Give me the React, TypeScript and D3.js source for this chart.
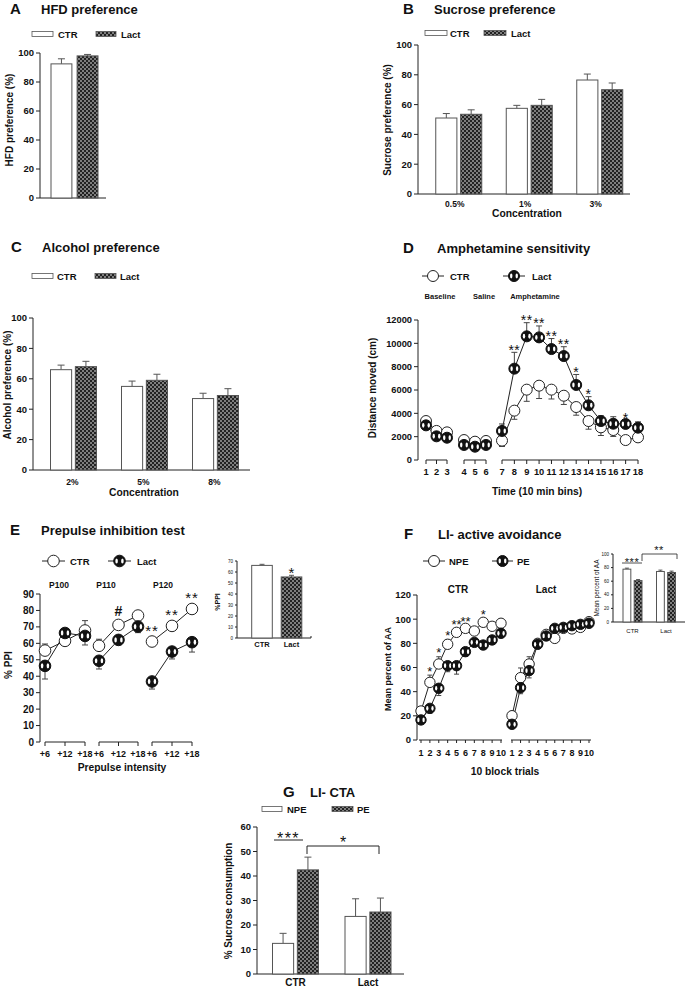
import React from "react";
import * as d3 from "d3";

const FONT = "'Liberation Sans', Arial, Helvetica, sans-serif";
const INK = "#222";
const BAR_STROKE = "#555";
const PAT = "url(#lactPattern)";

// ---------- A: HFD preference ----------
const hfdGroups = ["CTR", "Lact"];
const hfdMean = [92.5, 98];
const hfdErr = [3.5, 1];

// ---------- B: Sucrose preference ----------
const sucroseConc = ["0.5%", "1%", "3%"];
const sucroseCTR = [51, 57.5, 76.5];
const sucroseCTRErr = [3, 2, 4];
const sucroseLact = [53.5, 59.5, 70];
const sucroseLactErr = [3, 4, 4.5];

// ---------- C: Alcohol preference ----------
const alcoholConc = ["2%", "5%", "8%"];
const alcoholCTR = [66, 55, 47];
const alcoholCTRErr = [3, 3.5, 3.5];
const alcoholLact = [68, 59, 49];
const alcoholLactErr = [3.5, 4, 4.5];
const prefTicks = [0, 20, 40, 60, 80, 100];

// ---------- D: Amphetamine sensitivity ----------
const ampBins = [1, 2, 3, 4, 5, 6, 7, 8, 9, 10, 11, 12, 13, 14, 15, 16, 17, 18];
const ampPhases = ["Baseline", "Saline", "Amphetamine"];
const ampPhaseBins = [[1, 3], [4, 6], [7, 18]];
const ampCTR = [3340, 2490, 2370, 1710, 1570, 1630, 1660, 4230, 6030, 6370, 6030, 5510, 4540, 3340, 2800, 2570, 1710, 1940];
const ampCTRErr = [250, 200, 250, 200, 150, 200, 500, 740, 1000, 1100, 800, 750, 700, 700, 700, 550, 300, 300];
const ampLact = [2970, 2030, 1910, 1290, 1140, 1290, 2490, 7830, 10600, 10510, 9510, 8910, 6430, 4690, 3340, 3110, 3090, 2770];
const ampLactErr = [200, 200, 200, 200, 200, 200, 600, 1400, 1170, 980, 900, 800, 900, 740, 450, 600, 300, 500];
const ampStars = ["", "", "", "", "", "", "", "**", "**", "**", "**", "**", "*", "*", "", "", "*", ""];
const ampTicks = [0, 2000, 4000, 6000, 8000, 10000, 12000];

// ---------- E: Prepulse inhibition ----------
const ppiPulses = ["P100", "P110", "P120"];
const ppiIntensity = ["+6", "+12", "+18"];
const ppiCTR = [[55.6, 61.5, 67.8], [58.5, 71.2, 76.9], [61.1, 70.6, 80.9]];
const ppiCTRErr = [[4, 2, 6], [4, 2, 2], [1.5, 1.5, 1.5]];
const ppiLact = [[46.3, 66.3, 64.5], [49.4, 62.1, 70.2], [36.8, 55.0, 60.7]];
const ppiLactErr = [[8, 2, 5.5], [5, 3, 3.7], [4.6, 4.5, 6]];
const ppiMarks = [["", "", ""], ["", "#", ""], ["**", "**", "**"]];
const ppiTicks = [0, 10, 20, 30, 40, 50, 60, 70, 80, 90];
const ppiTotalGroups = ["CTR", "Lact"];
const ppiTotal = [66, 55.5];
const ppiTotalErr = [1, 1.5];
const ppiTotalMarks = ["", "*"];
const ppiTotalTicks = [0, 10, 20, 30, 40, 50, 60, 70];

// ---------- F: LI active avoidance ----------
const aaGroups = ["CTR", "Lact"];
const aaBlocks = [1, 2, 3, 4, 5, 6, 7, 8, 9, 10];
const aaNPE = [
  [24.0, 47.7, 62.9, 79.2, 89.1, 92.4, 90.2, 97.4, 94.1, 96.6],
  [20.1, 51.6, 62.9, 80.0, 87.4, 84.1, 92.4, 91.9, 93.2, 97.9],
];
const aaNPEErr = [
  [3, 6, 6, 4, 3, 2, 3, 3, 3, 3],
  [3, 8, 6, 3, 3, 3, 2, 2, 2, 2],
];
const aaPE = [
  [16.6, 26.2, 42.8, 61.5, 61.5, 73.1, 80.8, 78.6, 82.8, 88.3],
  [13.0, 43.3, 57.4, 79.2, 86.1, 92.4, 93.2, 94.6, 95.7, 96.6],
];
const aaPEErr = [
  [3, 4, 6, 5, 7, 4, 3, 3, 3, 3],
  [3, 5, 6, 3, 3, 3, 3, 3, 2, 2],
];
const aaStars = ["", "*", "*", "*", "**", "**", "", "*", "", ""];
const aaTicks = [0, 20, 40, 60, 80, 100, 120];
const aaMeanNPE = [77.7, 74.3];
const aaMeanNPEErr = [1.5, 2];
const aaMeanPE = [60.9, 72.8];
const aaMeanPEErr = [1.5, 2];

// ---------- G: LI CTA ----------
const ctaGroups = ["CTR", "Lact"];
const ctaNPE = [12.5, 23.5];
const ctaNPEErr = [4.1, 7.2];
const ctaPE = [42.5, 25.3];
const ctaPEErr = [5.2, 5.7];
const ctaTicks = [0, 10, 20, 30, 40, 50, 60];

// ================= helpers =================
function Title({ lx, tx, y, letter, title }: any) {
  return (
    <g fontWeight="bold" fill="#111">
      <text x={lx} y={y} fontSize={15}>{letter}</text>
      <text x={tx} y={y} fontSize={13}>{title}</text>
    </g>
  );
}

function BarLegend({ y, items }: any) {
  return (
    <g>
      {items.map((it: any) => (
        <g key={it.label}>
          <rect x={it.x} y={y - 2.5} width={it.w} height={5} fill={it.fill} stroke={BAR_STROKE} strokeWidth={0.8} />
          <text x={it.tx} y={y + 3.5} fontSize={9.5} fontWeight="bold">{it.label}</text>
        </g>
      ))}
    </g>
  );
}

function OpenMarker({ x, y, r }: any) {
  return <circle cx={x} cy={y} r={r} fill="#fff" stroke={INK} strokeWidth={1} />;
}

function FilledMarker({ x, y, r }: any) {
  return (
    <g>
      <circle cx={x} cy={y} r={r} fill="#111" stroke="#111" strokeWidth={1} />
      <ellipse cx={x - r * 0.5} cy={y} rx={r * 0.22} ry={r * 0.45} fill="#fff" />
      <ellipse cx={x + r * 0.5} cy={y} rx={r * 0.22} ry={r * 0.45} fill="#fff" />
    </g>
  );
}

function LineLegend({ y, items, r }: any) {
  return (
    <g>
      {items.map((it: any) => (
        <g key={it.label}>
          <line x1={it.x1} x2={it.x2} y1={y} y2={y} stroke={INK} />
          {it.filled ? <FilledMarker x={(it.x1 + it.x2) / 2} y={y} r={r} /> : <OpenMarker x={(it.x1 + it.x2) / 2} y={y} r={r} />}
          <text x={it.tx} y={y + 3.5} fontSize={9.5} fontWeight="bold">{it.label}</text>
        </g>
      ))}
    </g>
  );
}

function YAxis({ x, scale, ticks, fs, tickLen, top, bottom, weight = "bold" }: any) {
  return (
    <g>
      <line x1={x} x2={x} y1={top} y2={bottom} stroke={INK} />
      {ticks.map((t: number) => (
        <g key={t}>
          <line x1={x - tickLen} x2={x} y1={scale(t)} y2={scale(t)} stroke={INK} />
          <text x={x - tickLen - 2} y={scale(t) + fs * 0.36} textAnchor="end" fontSize={fs} fontWeight={weight}>{t}</text>
        </g>
      ))}
    </g>
  );
}

function RotLabel({ x, y, text, fs, weight = "bold" }: any) {
  return (
    <text transform={`translate(${x},${y}) rotate(-90)`} textAnchor="middle" dy="0.35em" fontSize={fs} fontWeight={weight}>
      {text}
    </text>
  );
}

function ErrBar({ x, y1, y2, cap, stroke = BAR_STROKE }: any) {
  return (
    <g stroke={stroke} strokeWidth={1}>
      <line x1={x} x2={x} y1={y1} y2={y2} />
      <line x1={x - cap / 2} x2={x + cap / 2} y1={y2} y2={y2} />
    </g>
  );
}

function BarChart(p: any) {
  const y = d3.scaleLinear().domain([0, p.yMax]).range([p.yBottom, p.yTop]);
  const x = d3.scaleBand<string>().domain(p.cats).range(p.band);
  const xi = d3
    .scaleBand<string>()
    .domain(p.series.map((_: any, i: number) => String(i)))
    .range(p.inner)
    .paddingInner(p.innerPad);
  return (
    <g>
      <YAxis x={p.axisX} scale={y} ticks={p.ticks} fs={p.tickFs} tickLen={p.tickLen} top={p.yTop} bottom={p.yBottom} weight={p.tickWeight || "bold"} />
      <line x1={p.axisX} x2={p.xEnd} y1={p.yBottom} y2={p.yBottom} stroke={INK} />
      {p.cats.map((c: string, ci: number) => {
        const cx = (x(c) as number) + x.bandwidth() / 2;
        return (
          <g key={c}>
            {p.series.map((s: number[], si: number) => {
              const bx = cx + (xi(String(si)) as number);
              const bw = xi.bandwidth();
              const v = s[ci];
              const e = p.errs[si][ci];
              const bc = bx + bw / 2;
              return (
                <g key={si}>
                  <ErrBar x={bc} y1={y(v)} y2={y(v + e)} cap={p.capW} />
                  <rect x={bx} y={y(v)} width={bw} height={p.yBottom - y(v)} fill={p.fillFor(si, ci)} stroke={BAR_STROKE} strokeWidth={1} />
                  {p.marks && p.marks[si] && p.marks[si][ci] ? (
                    <text x={bc} y={y(v + e) - 4 + p.markFs * 0.57 - 2} textAnchor="middle" fontSize={p.markFs}>{p.marks[si][ci]}</text>
                  ) : null}
                </g>
              );
            })}
            {p.catY != null && (
              <text x={cx + (p.catDx || 0)} y={p.catY} textAnchor="middle" fontSize={p.catFs} fontWeight={p.catWeight || "bold"}>{c}</text>
            )}
          </g>
        );
      })}
    </g>
  );
}

// ================= panels =================
function PanelA() {
  return (
    <g>
      <Title lx={10} tx={41} y={14} letter="A" title="HFD preference" />
      <BarLegend y={34} items={[
        { label: hfdGroups[0], x: 32, w: 21, tx: 58, fill: "#fff" },
        { label: hfdGroups[1], x: 96, w: 20, tx: 121, fill: PAT },
      ]} />
      <BarChart axisX={40} xEnd={106} yTop={53} yBottom={198} yMax={100} ticks={prefTicks} tickFs={9.5} tickLen={4}
        cats={["HFD"]} series={hfdMean.map((v) => [v])} errs={hfdErr.map((v) => [v])}
        band={[60, 89]} inner={[-23.5, 23.5]} innerPad={0.2} capW={7}
        fillFor={(si: number) => (si === 0 ? "#fff" : PAT)} />
      <RotLabel x={9} y={120} text="HFD preference (%)" fs={10} />
    </g>
  );
}

function PanelB() {
  return (
    <g>
      <Title lx={403} tx={434} y={14} letter="B" title="Sucrose preference" />
      <BarLegend y={33} items={[
        { label: "CTR", x: 425, w: 22, tx: 450, fill: "#fff" },
        { label: "Lact", x: 484, w: 22, tx: 511, fill: PAT },
      ]} />
      <BarChart axisX={418} xEnd={630} yTop={45} yBottom={194} yMax={100} ticks={prefTicks} tickFs={9.5} tickLen={4}
        cats={sucroseConc} series={[sucroseCTR, sucroseLact]} errs={[sucroseCTRErr, sucroseLactErr]}
        band={[423.5, 635]} inner={[-23, 23]} innerPad={0.15} capW={7}
        fillFor={(si: number) => (si === 0 ? "#fff" : PAT)}
        catY={207} catDx={-4} catFs={8.5} />
      <text x={527} y={217} textAnchor="middle" fontSize={10.3} fontWeight="bold">Concentration</text>
      <RotLabel x={387} y={120} text="Sucrose preference (%)" fs={10} />
    </g>
  );
}

function PanelC() {
  return (
    <g>
      <Title lx={11} tx={42} y={252} letter="C" title="Alcohol preference" />
      <BarLegend y={276} items={[
        { label: "CTR", x: 32, w: 21, tx: 57, fill: "#fff" },
        { label: "Lact", x: 95, w: 21, tx: 120, fill: PAT },
      ]} />
      <BarChart axisX={33} xEnd={250} yTop={318} yBottom={470} yMax={100} ticks={prefTicks} tickFs={9.5} tickLen={4}
        cats={alcoholConc} series={[alcoholCTR, alcoholLact]} errs={[alcoholCTRErr, alcoholLactErr]}
        band={[38, 251]} inner={[-23, 23]} innerPad={0.15} capW={7}
        fillFor={(si: number) => (si === 0 ? "#fff" : PAT)}
        catY={485} catDx={-1} catFs={8.5} />
      <text x={144} y={496} textAnchor="middle" fontSize={10.3} fontWeight="bold">Concentration</text>
      <RotLabel x={7} y={385} text="Alcohol preference (%)" fs={10} />
    </g>
  );
}

function PanelD() {
  const y = d3.scaleLinear().domain([0, 12000]).range([460, 320]);
  const ranges = [[426, 447], [464, 486], [502, 638]];
  const segs = ampPhaseBins.map((pb, i) => ({
    bins: ampBins.filter((b) => b >= pb[0] && b <= pb[1]),
    scale: d3.scaleLinear().domain(pb).range(ranges[i]),
  }));
  const xOf = (b: number) => {
    const s = segs.find((sg) => sg.bins.includes(b))!;
    return s.scale(b);
  };
  const r = 5.5;
  const phaseX = [440, 484, 535];
  return (
    <g>
      <Title lx={403} tx={437} y={253} letter="D" title="Amphetamine sensitivity" />
      <LineLegend y={276} r={5.5} items={[
        { label: "CTR", x1: 422, x2: 444, tx: 450, filled: false },
        { label: "Lact", x1: 503, x2: 525, tx: 532, filled: true },
      ]} />
      {ampPhases.map((ph, i) => (
        <text key={ph} x={phaseX[i]} y={299} textAnchor="middle" fontSize={7.5} fontWeight="bold">{ph}</text>
      ))}
      <YAxis x={418} scale={y} ticks={ampTicks} fs={9.3} tickLen={4} top={320} bottom={460} />
      {segs.map((sg, i) => (
        <g key={i}>
          <line x1={sg.scale(sg.bins[0])} x2={sg.scale(sg.bins[sg.bins.length - 1])} y1={460} y2={460} stroke={INK} />
          {sg.bins.map((b) => (
            <g key={b}>
              <line x1={sg.scale(b)} x2={sg.scale(b)} y1={460} y2={464} stroke={INK} />
              <text x={sg.scale(b)} y={475} textAnchor="middle" fontSize={9.3} fontWeight="bold">{b}</text>
            </g>
          ))}
          {[ampCTR, ampLact].map((vals, si) => (
            <path key={si} d={d3.line<number>().x((b) => sg.scale(b)).y((b) => y(vals[b - 1]))(sg.bins) || ""} fill="none" stroke={INK} strokeWidth={1} />
          ))}
        </g>
      ))}
      {ampBins.map((b, i) => (
        <g key={"e" + b}>
          <ErrBar x={xOf(b)} y1={y(ampCTR[i])} y2={y(ampCTR[i] - ampCTRErr[i])} cap={6} stroke="#444" />
          <ErrBar x={xOf(b)} y1={y(ampLact[i])} y2={y(ampLact[i] + ampLactErr[i])} cap={6} stroke="#444" />
        </g>
      ))}
      {ampBins.map((b, i) => <OpenMarker key={"c" + b} x={xOf(b)} y={y(ampCTR[i])} r={r} />)}
      {ampBins.map((b, i) => <FilledMarker key={"l" + b} x={xOf(b)} y={y(ampLact[i])} r={r} />)}
      {ampBins.map((b, i) =>
        ampStars[i] ? (
          <text key={"s" + b} x={xOf(b)} y={y(ampLact[i] + ampLactErr[i]) + 2.5} textAnchor="middle" fontSize={14} letterSpacing={0.5}>{ampStars[i]}</text>
        ) : null
      )}
      <RotLabel x={372} y={388} text="Distance moved (cm)" fs={10} />
      <text x={537} y={495} textAnchor="middle" fontSize={10.3} fontWeight="bold">Time (10 min bins)</text>
    </g>
  );
}

function PanelE() {
  const y = d3.scaleLinear().domain([0, 90]).range([742, 594]);
  const ranges = [[45, 85], [99, 138], [152, 192]];
  const segScales = ranges.map((rg) => d3.scalePoint<string>().domain(ppiIntensity).range(rg as [number, number]));
  const r = 5.8;
  const pulseX = [59, 106, 163];
  return (
    <g>
      <Title lx={10} tx={41} y={535} letter="E" title="Prepulse inhibition test" />
      <LineLegend y={561} r={5.8} items={[
        { label: "CTR", x1: 42, x2: 65, tx: 70, filled: false },
        { label: "Lact", x1: 108, x2: 131, tx: 137, filled: true },
      ]} />
      {ppiPulses.map((p, i) => (
        <text key={p} x={pulseX[i]} y={588} textAnchor="middle" fontSize={8.5} fontWeight="bold">{p}</text>
      ))}
      <YAxis x={40} scale={y} ticks={ppiTicks} fs={10} tickLen={4} top={594} bottom={742} />
      {ppiPulses.map((p, pi) => {
        const sx = segScales[pi];
        return (
          <g key={p}>
            <line x1={sx(ppiIntensity[0])} x2={sx(ppiIntensity[2])} y1={742} y2={742} stroke={INK} />
            {ppiIntensity.map((it) => (
              <g key={it}>
                <line x1={sx(it)} x2={sx(it)} y1={742} y2={746} stroke={INK} />
                <text x={sx(it)} y={757} textAnchor="middle" fontSize={9} fontWeight="bold">{it}</text>
              </g>
            ))}
            {[ppiCTR, ppiLact].map((vals, si) => (
              <path key={si} d={d3.line<string>().x((it) => sx(it) as number).y((_, k) => y(vals[pi][k]))(ppiIntensity) || ""} fill="none" stroke={INK} />
            ))}
            {ppiIntensity.map((it, k) => (
              <g key={"e" + it}>
                <ErrBar x={sx(it)} y1={y(ppiCTR[pi][k])} y2={y(ppiCTR[pi][k] + ppiCTRErr[pi][k])} cap={6} stroke="#444" />
                <ErrBar x={sx(it)} y1={y(ppiLact[pi][k])} y2={y(ppiLact[pi][k] - ppiLactErr[pi][k])} cap={6} stroke="#444" />
              </g>
            ))}
            {ppiIntensity.map((it, k) => <OpenMarker key={"c" + it} x={sx(it)} y={y(ppiCTR[pi][k])} r={r} />)}
            {ppiIntensity.map((it, k) => <FilledMarker key={"l" + it} x={sx(it)} y={y(ppiLact[pi][k])} r={r} />)}
            {ppiIntensity.map((it, k) => {
              const m = ppiMarks[pi][k];
              if (!m) return null;
              const cy = y(ppiCTR[pi][k]) - 14;
              return m === "#" ? (
                <text key={"m" + it} x={sx(it)} y={cy + 5} textAnchor="middle" fontSize={14} fontWeight="bold">{m}</text>
              ) : (
                <text key={"m" + it} x={sx(it)} y={cy + 8.5} textAnchor="middle" fontSize={15} letterSpacing={1}>{m}</text>
              );
            })}
          </g>
        );
      })}
      <RotLabel x={8} y={665} text="% PPI" fs={10} />
      <text x={122} y={771} textAnchor="middle" fontSize={10.3} fontWeight="bold">Prepulse intensity</text>
      {/* inset */}
      <BarChart axisX={237} xEnd={311} yTop={561} yBottom={638} yMax={70} ticks={ppiTotalTicks} tickFs={4.5} tickLen={2}
        tickWeight="normal"
        cats={ppiTotalGroups} series={[ppiTotal]} errs={[ppiTotalErr]}
        band={[247.25, 306.25]} inner={[-10.3, 10.3]} innerPad={0} capW={5}
        fillFor={(_si: number, ci: number) => (ci === 0 ? "#fff" : PAT)}
        marks={[ppiTotalMarks]} markFs={15}
        catY={647} catFs={7.5} />
      <line x1={311} x2={311} y1={636} y2={638} stroke={INK} />
      <RotLabel x={218} y={602} text="%PPI" fs={7} />
    </g>
  );
}

function PanelF() {
  const y = d3.scaleLinear().domain([0, 120]).range([740, 595]);
  const ranges = [[421, 501], [512, 589]];
  const axisRanges = [[419, 502], [511, 591]];
  const segScales = ranges.map((rg) => d3.scaleLinear().domain([aaBlocks[0], aaBlocks[aaBlocks.length - 1]]).range(rg));
  const r = 5.2;
  const groupX = [458, 546];
  return (
    <g>
      <Title lx={404} tx={438} y={539} letter="F" title="LI- active avoidance" />
      <LineLegend y={561} r={5.5} items={[
        { label: "NPE", x1: 423, x2: 445, tx: 449, filled: false },
        { label: "PE", x1: 492, x2: 513, tx: 517, filled: true },
      ]} />
      {aaGroups.map((g, gi) => (
        <text key={g} x={groupX[gi]} y={593} textAnchor="middle" fontSize={10} fontWeight="bold">{g}</text>
      ))}
      <YAxis x={417} scale={y} ticks={aaTicks} fs={9.5} tickLen={4} top={595} bottom={740} />
      {aaGroups.map((g, gi) => {
        const sx = segScales[gi];
        return (
          <g key={g}>
            <line x1={axisRanges[gi][0]} x2={axisRanges[gi][1]} y1={740} y2={740} stroke={INK} />
            {aaBlocks.map((b) => (
              <g key={b}>
                <line x1={sx(b)} x2={sx(b)} y1={740} y2={743} stroke={INK} />
                <text x={sx(b)} y={756} textAnchor="middle" fontSize={9} fontWeight="bold">{b}</text>
              </g>
            ))}
            {[aaNPE, aaPE].map((vals, si) => (
              <path key={si} d={d3.line<number>().x((b) => sx(b)).y((_, k) => y(vals[gi][k]))(aaBlocks) || ""} fill="none" stroke={INK} />
            ))}
            {aaBlocks.map((b, k) => (
              <g key={"e" + b}>
                <ErrBar x={sx(b)} y1={y(aaNPE[gi][k])} y2={y(aaNPE[gi][k] + aaNPEErr[gi][k])} cap={5} stroke="#444" />
                <ErrBar x={sx(b)} y1={y(aaPE[gi][k])} y2={y(aaPE[gi][k] - aaPEErr[gi][k])} cap={5} stroke="#444" />
              </g>
            ))}
            {aaBlocks.map((b, k) => <OpenMarker key={"c" + b} x={sx(b)} y={y(aaNPE[gi][k])} r={r} />)}
            {aaBlocks.map((b, k) => <FilledMarker key={"l" + b} x={sx(b)} y={y(aaPE[gi][k])} r={r} />)}
            {gi === 0 &&
              aaBlocks.map((b, k) =>
                aaStars[k] ? (
                  <text key={"s" + b} x={sx(b)} y={y(aaNPE[0][k] + aaNPEErr[0][k]) - 7 + 7.5} textAnchor="middle" fontSize={13}>{aaStars[k]}</text>
                ) : null
              )}
          </g>
        );
      })}
      <RotLabel x={388} y={669} text="Mean percent of AA" fs={9} />
      <text x={505} y={775} textAnchor="middle" fontSize={10.3} fontWeight="bold">10 block trials</text>
      {/* inset */}
      <BarChart axisX={613} xEnd={685} yTop={554} yBottom={622} yMax={100} ticks={prefTicks} tickFs={4.5} tickLen={2}
        tickWeight="normal"
        cats={aaGroups} series={[aaMeanNPE, aaMeanPE]} errs={[aaMeanNPEErr, aaMeanPEErr]}
        band={[615.75, 682.75]} inner={[-9.5, 9.5]} innerPad={0.3} capW={4}
        fillFor={(si: number) => (si === 0 ? "#fff" : PAT)}
        catY={633} catFs={6} catWeight="normal" />
      <RotLabel x={597} y={588} text="Mean percent of AA" fs={6.5} weight="normal" />
      <line x1={622} x2={642} y1={563} y2={563} stroke={INK} strokeWidth={0.8} />
      <text x={632} y={565.5} textAnchor="middle" fontSize={11} letterSpacing={0.5}>***</text>
      <path d="M642,561 V554 H677 V559" fill="none" stroke={INK} strokeWidth={0.8} />
      <text x={659} y={553.5} textAnchor="middle" fontSize={11} letterSpacing={0.5}>**</text>
    </g>
  );
}

function PanelG() {
  return (
    <g>
      <Title lx={283} tx={310} y={797} letter="G" title="LI- CTA" />
      <BarLegend y={809} items={[
        { label: "NPE", x: 262, w: 20, tx: 287, fill: "#fff" },
        { label: "PE", x: 332, w: 21, tx: 357, fill: PAT },
      ]} />
      <BarChart axisX={257} xEnd={404} yTop={827} yBottom={974} yMax={60} ticks={ctaTicks} tickFs={9.5} tickLen={4}
        cats={ctaGroups} series={[ctaNPE, ctaPE]} errs={[ctaNPEErr, ctaPEErr]}
        band={[259.25, 404.25]} inner={[-23, 23]} innerPad={0.15} capW={7}
        fillFor={(si: number) => (si === 0 ? "#fff" : PAT)}
        catY={986} catFs={10} />
      <RotLabel x={228} y={901} text="% Sucrose consumption" fs={10} />
      <line x1={274} x2={303} y1={840} y2={840} stroke={INK} />
      <text x={288.5} y={844} textAnchor="middle" fontSize={16} letterSpacing={1.5}>***</text>
      <path d="M307,854 V846 H379 V854" fill="none" stroke={INK} />
      <text x={343} y={848} textAnchor="middle" fontSize={16}>*</text>
    </g>
  );
}

export default function App() {
  return (
    <svg
      width={685}
      height={989}
      viewBox="0 0 685 989"
      style={{ position: "absolute", left: 0, top: 0, background: "#fff" }}
      fontFamily={FONT}
      fill="#111"
    >
      <defs>
        <pattern id="lactPattern" patternUnits="userSpaceOnUse" width={4} height={4}>
          <rect width={4} height={4} fill="#222" />
          <circle cx={1} cy={1} r={0.8} fill="#f4f4f4" />
          <circle cx={3} cy={3} r={0.8} fill="#f4f4f4" />
        </pattern>
      </defs>
      <rect width={685} height={989} fill="#fff" />
      <PanelA />
      <PanelB />
      <PanelC />
      <PanelD />
      <PanelE />
      <PanelF />
      <PanelG />
    </svg>
  );
}
